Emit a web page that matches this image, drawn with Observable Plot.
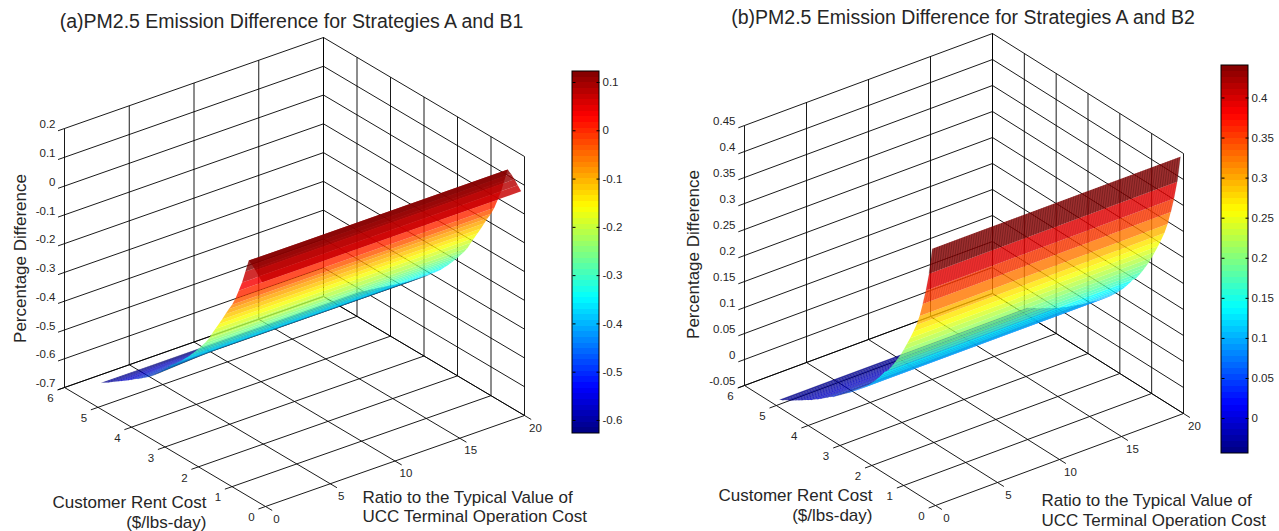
<!DOCTYPE html>
<html><head><meta charset="utf-8">
<script src="https://cdn.jsdelivr.net/npm/d3@7"></script>
<script src="https://cdn.jsdelivr.net/npm/@observablehq/plot@0.6"></script>
<style>
html,body{margin:0;padding:0;background:#fff}
#page{display:flex;width:1279px;height:531px;overflow:hidden}
svg{display:block}
</style></head><body><div id="page"></div>
<script>
// ---- data ----
const ratioTicks = [0, 5, 10, 15, 20];
const rentTicks = [0, 1, 2, 3, 4, 5, 6];
const ratioColumns = [0, 4, 20];
const rentCost = [0.1,0.2,0.3,0.4,0.5,0.6,0.7,0.8,0.9,1.0,1.1,1.2,1.3,1.4,1.5,1.6,1.7,1.8,1.9,2.0,2.1,2.2,2.3,2.4,2.5,2.6,2.7,2.8,2.9,3.0,3.1,3.2,3.3,3.4,3.5,3.6,3.7,3.8,3.9,4.0,4.1,4.2,4.3,4.4,4.5,4.6,4.7,4.8,4.9];
const pctDiffA = [0.072,0.086,0.100,0.112,0.120,0.075,0.030,-0.005,-0.040,-0.068,-0.090,-0.115,-0.140,-0.163,-0.187,-0.210,-0.235,-0.255,-0.272,-0.290,-0.306,-0.322,-0.337,-0.351,-0.366,-0.378,-0.390,-0.4015,-0.413,-0.4245,-0.435,-0.446,-0.457,-0.468,-0.478,-0.487,-0.497,-0.506,-0.515,-0.524,-0.5335,-0.543,-0.552,-0.561,-0.571,-0.580,-0.590,-0.599,-0.608];
// the same rows of panel (a) at ratio 0, where the surface dips a little
const pctDiffAatZero = [0.072,0.086,0.100,0.112,0.120,0.075,0.030,-0.005,-0.040,-0.068,-0.090,-0.115,-0.140,-0.163,-0.187,-0.210,-0.235,-0.255,-0.272,-0.290,-0.306,-0.322,-0.337,-0.351,-0.366,-0.378,-0.390,-0.4015,-0.416,-0.4295,-0.443,-0.457,-0.469,-0.481,-0.491,-0.500,-0.509,-0.518,-0.526,-0.535,-0.5435,-0.552,-0.560,-0.568,-0.576,-0.584,-0.593,-0.600,-0.608];
const pctDiffB = [0.440,0.388,0.352,0.322,0.295,0.274,0.257,0.241,0.226,0.211,0.197,0.185,0.173,0.162,0.152,0.145,0.135,0.126,0.117,0.109,0.101,0.094,0.087,0.081,0.075,0.069,0.063,0.058,0.053,0.047,0.042,0.036,0.032,0.027,0.022,0.017,0.012,0.008,0.003,-0.001,-0.005,-0.009,-0.013,-0.017,-0.021,-0.025,-0.028,-0.032,-0.035];
const zTicksA = [0.2,0.1,0,-0.1,-0.2,-0.3,-0.4,-0.5,-0.6,-0.7];
const zTicksB = [0.45,0.4,0.35,0.3,0.25,0.2,0.15,0.1,0.05,0,-0.05];
const barTicksA = [0.1,0,-0.1,-0.2,-0.3,-0.4,-0.5,-0.6];
const barTicksB = [0.4,0.35,0.3,0.25,0.2,0.15,0.1,0.05,0];
const barRangeA = [-0.627, 0.1228];
const barRangeB = [-0.0436, 0.4405];

// ---- layout (page pixels) ----
const layoutA = {ox:0, w:640, title:"(a)PM2.5 Emission Difference for Strategies A and B1", titleX:291, titleY:27,
  front:[265,506], right:[524,415], left:[64,387], zH:259,
  zLabel:{x:20,y:258}, rent:{x:206,y:[507,527]}, ratio:{x:362,y:[502,521]},
  bar:{x1:572,x2:599,y1:433,y2:71}, meshRows:0};
const layoutB = {ox:640, w:639, title:"(b)PM2.5 Emission Difference for Strategies A and B2", titleX:962.5, titleY:23,
  front:[935,505], right:[1183,413], left:[744,385], zH:260,
  zLabel:{x:693,y:254}, rent:{x:872,y:[500,520]}, ratio:{x:1041,y:[505,525]},
  bar:{x1:1221,x2:1248,y1:453,y2:65}, meshRows:3};

// MATLAB-style jet(64)
const jetChannel = t => Math.max(0, Math.min(1, 1.5 - Math.abs(4 * t)));
const jet = d3.range(64).map(i => {
  const t = (i + 0.5) / 64;
  const c = v => Math.round(255 * jetChannel(v));
  return `rgb(${c(t - 0.75)},${c(t - 0.5)},${c(t - 0.25)})`;
});

function panel(L, zTicks, values, valuesAtZero, barTicks, barRange) {
  const zMin = d3.min(zTicks), zMax = d3.max(zTicks);
  const P = (x, y, z) => [
    L.front[0] + x / 20 * (L.right[0] - L.front[0]) + y / 6 * (L.left[0] - L.front[0]),
    L.front[1] + x / 20 * (L.right[1] - L.front[1]) + y / 6 * (L.left[1] - L.front[1]) - (z - zMin) / (zMax - zMin) * L.zH
  ];
  const seg = (a, b) => { const p = P(...a), q = P(...b); return {x1:p[0], y1:p[1], x2:q[0], y2:q[1]}; };

  // back walls and floor grid
  const grid = [
    ...zTicks.map(z => seg([0,6,z],[20,6,z])),
    ...zTicks.map(z => seg([20,6,z],[20,0,z])),
    ...ratioTicks.map(x => seg([x,6,zMin],[x,6,zMax])),
    ...rentTicks.map(y => seg([20,y,zMin],[20,y,zMax])),
    ...ratioTicks.map(x => seg([x,0,zMin],[x,6,zMin])),
    ...rentTicks.map(y => seg([0,y,zMin],[20,y,zMin]))
  ];
  const ticks = [
    ...ratioTicks.map(x => seg([x,0,zMin],[x,-0.2,zMin])),
    ...rentTicks.map(y => seg([0,y,zMin],[-0.55,y,zMin])),
    ...zTicks.map(z => seg([0,6,z],[-0.5,6,z]))
  ];

  // surface rows, far to near
  const [x0, xm, x1] = ratioColumns;
  const rows = [];
  for (let i = rentCost.length - 2; i >= 0; --i) {
    const a = rentCost[i], b = rentCost[i + 1], za = values[i], zb = values[i + 1];
    for (const [x, y, z] of [[x0,a,valuesAtZero[i]],[xm,a,za],[x1,a,za],[x1,b,zb],[xm,b,zb],[x0,b,valuesAtZero[i + 1]]]) {
      const p = P(x, y, z);
      rows.push({row:i, px:p[0], py:p[1], value:za});
    }
  }
  const backRows = rows.filter(r => r.row >= 27);
  const frontRows = rows.filter(r => r.row < 27);

  // dense facet edges on the top rows
  const meshX = d3.range(0, 20.01, 0.2);
  const meshOf = i => meshX.map(x => seg([x,rentCost[i],values[i]],[x,rentCost[i + 1],values[i + 1]]));
  const meshTop = L.meshRows ? meshOf(0) : [];
  const meshNext = L.meshRows ? d3.range(1, L.meshRows).flatMap(meshOf) : [];

  // colour scale and colour bar
  const step = (barRange[1] - barRange[0]) / 64;
  const thresholds = d3.range(1, 64).map(i => barRange[0] + i * step);
  const barY = d3.scaleLinear().domain(barRange).range([L.bar.y1, L.bar.y2]);
  const levels = d3.range(64).map(i => ({
    v: barRange[0] + (i + 0.5) * step,
    y1: barY(barRange[0] + i * step), y2: barY(barRange[0] + (i + 1) * step)
  }));
  const barTickMarks = barTicks.flatMap(t => [
    {x1:L.bar.x1, x2:L.bar.x1 + 3, y:barY(t)},
    {x1:L.bar.x2 - 3, x2:L.bar.x2, y:barY(t)}
  ]);

  const ink = "#262626", font = "Liberation Sans, Arial, sans-serif";
  const zLabels = zTicks.map(z => { const p = P(0,6,z); return {x:p[0] - 9, y:p[1] - 4, t:String(z)}; });
  const xLabels = ratioTicks.map(x => { const p = P(x,0,zMin); return {x:p[0] + 11, y:p[1] + 12.5, t:String(x)}; });
  const yLabels = rentTicks.map(y => { const p = P(0,y,zMin); return {x:p[0] - 14, y:p[1] + 11, t:String(y)}; });
  const tickText = {x:"x", y:"y", text:"t", fontSize:11.5, fill:ink, fontFamily:font};
  const big = {fontSize:17, fill:ink, fontFamily:font, lineAnchor:"bottom"};
  const linkXY = {x1:"x1", y1:"y1", x2:"x2", y2:"y2"};

  return Plot.plot({
    width:L.w, height:531, margin:0, style:{background:"transparent"},
    x:{domain:[L.ox, L.ox + L.w], range:[0, L.w], axis:null},
    y:{domain:[0, 531], range:[0, 531], axis:null},
    color:{type:"threshold", domain:thresholds, range:jet},
    marks:[
      Plot.link(grid, {...linkXY, stroke:"#000", strokeWidth:0.9}),
      Plot.link(ticks, {...linkXY, stroke:"#000", strokeWidth:0.9}),
      Plot.line(backRows, {x:"px", y:"py", z:"row", fill:"value", fillOpacity:0.82, stroke:"#000", strokeOpacity:0.16, strokeWidth:0.6}),
      Plot.line(frontRows, {x:"px", y:"py", z:"row", fill:"value", stroke:"none", fillOpacity:0.82}),
      Plot.link(meshTop, {...linkXY, stroke:"#200", strokeOpacity:0.4, strokeWidth:0.7}),
      Plot.link(meshNext, {...linkXY, stroke:"#300", strokeOpacity:0.16, strokeWidth:0.7}),
      Plot.text(zLabels, {...tickText, textAnchor:"end"}),
      Plot.text(xLabels, tickText),
      Plot.text(yLabels, tickText),
      Plot.text([L.title], {x:L.titleX, y:L.titleY, text:d=>d, ...big, fontSize:19.5}),
      Plot.text(["Percentage Difference"], {x:L.zLabel.x, y:L.zLabel.y, text:d=>d, ...big, lineAnchor:"middle", rotate:-90}),
      Plot.text(["Customer Rent Cost","($/lbs-day)"], {x:L.rent.x, y:(d,i)=>L.rent.y[i], text:d=>d, ...big, textAnchor:"end"}),
      Plot.text(["Ratio to the Typical Value of","UCC Terminal Operation Cost"], {x:L.ratio.x, y:(d,i)=>L.ratio.y[i], text:d=>d, ...big, textAnchor:"start"}),
      Plot.rect(levels, {x1:L.bar.x1, x2:L.bar.x2, y1:"y1", y2:"y2", fill:"v", shapeRendering:"crispEdges"}),
      Plot.link(barTickMarks, {x1:"x1", x2:"x2", y1:"y", y2:"y", stroke:"#000", strokeWidth:1}),
      Plot.rect([L.bar], {x1:"x1", x2:"x2", y1:"y1", y2:"y2", fill:"none", stroke:"#000", strokeWidth:1}),
      Plot.text(barTicks.map(t => ({x:L.bar.x2 + 3, y:barY(t), t:String(t)})), {...tickText, textAnchor:"start"})
    ]
  });
}
const page = document.getElementById("page");
page.append(panel(layoutA, zTicksA, pctDiffA, pctDiffAatZero, barTicksA, barRangeA));
page.append(panel(layoutB, zTicksB, pctDiffB, pctDiffB, barTicksB, barRangeB));
</script></body></html>
